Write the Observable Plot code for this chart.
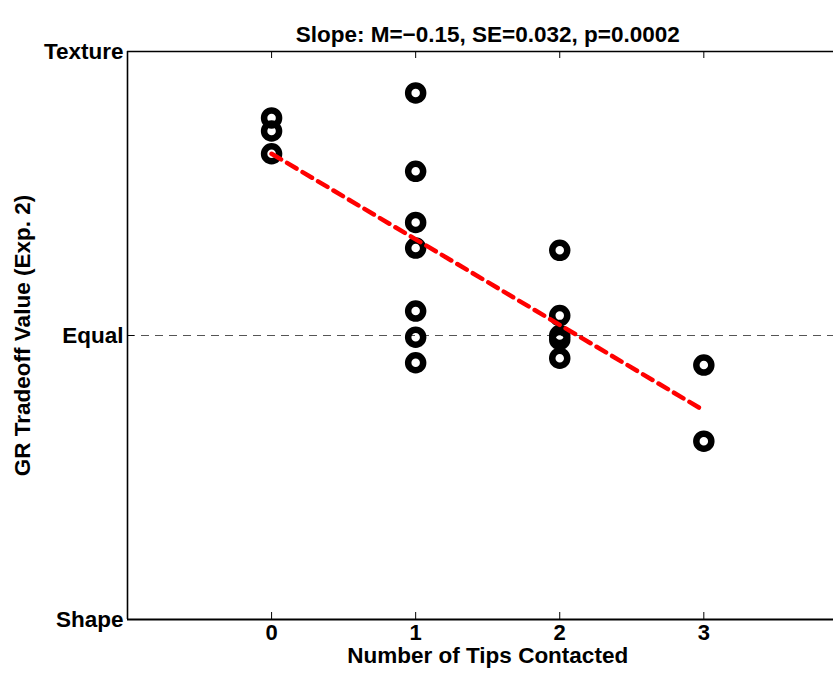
<!DOCTYPE html>
<html>
<head>
<meta charset="utf-8">
<script src="https://cdn.jsdelivr.net/npm/d3@7"></script>
<script src="https://cdn.jsdelivr.net/npm/@observablehq/plot@0.6"></script>
<style>
  html, body { margin: 0; padding: 0; background: #fff; }
</style>
</head>
<body>
<div id="chart"></div>
<script>
// Data
const tips = [0, 0, 0, 1, 1, 1, 1, 1, 1, 1, 2, 2, 2, 2, 2, 3, 3];
const tradeoff = [0.883, 0.860, 0.820, 0.927, 0.789, 0.699, 0.654, 0.543, 0.497, 0.452, 0.650, 0.535, 0.500, 0.493, 0.460, 0.448, 0.314];
const fitX = [0, 3];
const fitY = [0.820, 0.368];
const xTicks = [0, 1, 2, 3];
const yTicks = [0, 0.5, 1];
const yTickLabels = ["Shape", "Equal", "Texture"];
const titleText = "Slope: M=\u22120.15, SE=0.032, p=0.0002";
const xLabel = "Number of Tips Contacted";
const yLabel = "GR Tradeoff Value (Exp. 2)";

const points = tips.map((t, i) => ({tips: t, value: tradeoff[i]}));
const fit = fitX.map((x, i) => ({x, y: fitY[i]}));

const font = "'Liberation Sans', Arial, Helvetica, sans-serif";

const chart = Plot.plot({
  width: 833,
  height: 675,
  marginLeft: 127,
  marginRight: 0,
  marginTop: 51,
  marginBottom: 56,
  x: {domain: [-1, 3.9], axis: null},
  y: {domain: [0, 1], axis: null},
  style: {fontFamily: font, fontWeight: "bold", fontSize: "22px", background: "#fff", color: "#000", overflow: "visible"},
  marks: [
    // reference line at "Equal"
    Plot.ruleY([0.5], {stroke: "#555", strokeWidth: 1, strokeDasharray: "8,6"}),
    // axis box (left, bottom, top)
    Plot.ruleX([-1], {stroke: "#000", strokeWidth: 1.6}),
    Plot.ruleY([0], {stroke: "#000", strokeWidth: 2}),
    Plot.ruleY([1], {stroke: "#000", strokeWidth: 1.3}),
    // inward ticks
    Plot.tickX(xTicks, {x: d => d, insetTop: 561, stroke: "#000", strokeWidth: 1}),
    Plot.tickX(xTicks, {x: d => d, insetBottom: 561, stroke: "#000", strokeWidth: 1}),
    Plot.tickY(yTicks, {y: d => d, insetRight: 699, stroke: "#000", strokeWidth: 1}),
    // tick labels
    Plot.text(xTicks, {x: d => d, text: d => String(d), frameAnchor: "bottom", dy: 20, fontSize: 22, fontWeight: "bold"}),
    Plot.text(yTicks, {y: d => d, text: (d, i) => yTickLabels[i], frameAnchor: "left", textAnchor: "end", dx: -4, fontSize: 22.5, fontWeight: "bold"}),
    // data points
    Plot.dot(points, {x: "tips", y: "value", r: 7.5, stroke: "#000", strokeWidth: 6.5, fill: "none"}),
    // regression line
    Plot.line(fit, {x: "x", y: "y", stroke: "#ff0000", strokeWidth: 4.5, strokeDasharray: "11,7"}),
    // titles
    Plot.text([titleText], {x: 1.5, frameAnchor: "top", dy: -25, fontSize: 22.5, fontWeight: "bold"}),
    Plot.text([xLabel], {x: 1.5, frameAnchor: "bottom", dy: 43, fontSize: 22.5, fontWeight: "bold"}),
    Plot.text([yLabel], {y: 0.5, frameAnchor: "left", textAnchor: "middle", rotate: -90, dx: -105, fontSize: 22.5, fontWeight: "bold"})
  ]
});
document.getElementById("chart").appendChild(chart);
</script>
</body>
</html>
